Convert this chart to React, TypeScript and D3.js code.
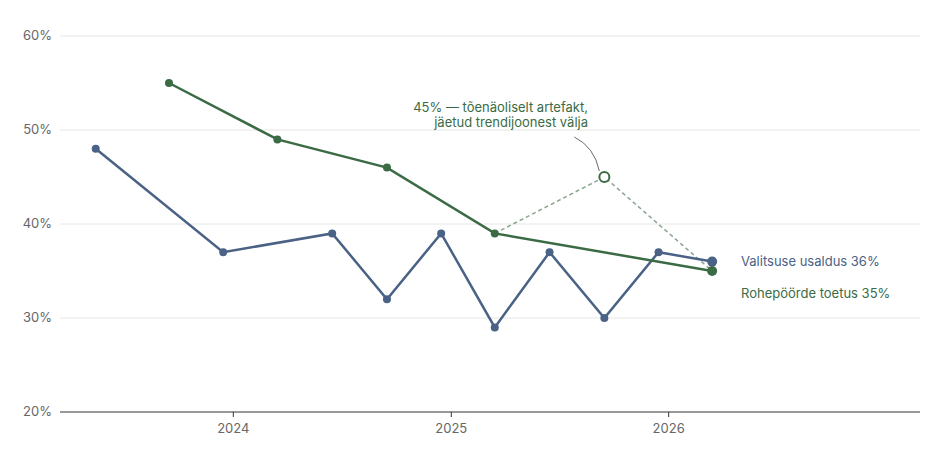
import React from "react";
import * as d3 from "d3";

const blueDates = ["2023-05-15","2023-12-15","2024-06-15","2024-09-15","2024-12-15","2025-03-15","2025-06-15","2025-09-15","2025-12-15","2026-03-15"];
const blueValues = [48,37,39,32,39,29,37,30,37,36];
const greenDates = ["2023-09-15","2024-03-15","2024-09-15","2025-03-15","2026-03-15"];
const greenValues = [55,49,46,39,35];
const artifactDate = "2025-09-15";
const artifactValue = 45;
const yTicks = [20,30,40,50,60];
const xTicks = ["2024-01-01","2025-01-01","2026-01-01"];

const W = 936, H = 462;
const BLUE = "#4a6285", GREEN = "#3b6b44";

export default function App() {
  const x = d3.scaleTime().domain([new Date("2023-03-16"), new Date("2027-02-27")]).range([60, 920]);
  const y = d3.scaleLinear().domain([20, 60]).range([412, 36]);
  const p = (d: string) => x(new Date(d));
  const line = d3.line<[number, number]>().x(d => d[0]).y(d => d[1]);
  const blue = blueDates.map((d, i) => [p(d), y(blueValues[i])] as [number, number]);
  const green = greenDates.map((d, i) => [p(d), y(greenValues[i])] as [number, number]);
  const art: [number, number] = [p(artifactDate), y(artifactValue)];
  const g3 = green[3], g4 = green[4];
  const font = "Inter, sans-serif";
  return (
    <svg width={W} height={H} style={{ position: "absolute", left: 0, top: 0, fontFamily: font }}>
      {yTicks.map(t => (
        <g key={t}>
          {t > 20 && <line x1={60} x2={920} y1={y(t)} y2={y(t)} stroke="#e6e6e6" />}
          <text x={52} y={y(t) + 4} textAnchor="end" fontSize={13} fill="#666">{t}%</text>
        </g>
      ))}
      <line x1={60} x2={920} y1={412} y2={412} stroke="#333" />
      {xTicks.map(t => (
        <g key={t}>
          <line x1={p(t)} x2={p(t)} y1={412} y2={417} stroke="#333" />
          <text x={p(t)} y={433} textAnchor="middle" fontSize={13} fill="#666">{t.slice(0, 4)}</text>
        </g>
      ))}
      <path d={line([g3, art, g4]) || ""} fill="none" stroke="#8aa58f" strokeWidth={1.5} strokeDasharray="4,3" />
      <path d={line(blue) || ""} fill="none" stroke={BLUE} strokeWidth={2.5} />
      <path d={line(green) || ""} fill="none" stroke={GREEN} strokeWidth={2.5} />
      {blue.map((d, i) => <circle key={i} cx={d[0]} cy={d[1]} r={i === blue.length - 1 ? 5 : 4} fill={BLUE} />)}
      {green.map((d, i) => <circle key={i} cx={d[0]} cy={d[1]} r={i === green.length - 1 ? 5 : 4} fill={GREEN} />)}
      <circle cx={art[0]} cy={art[1]} r={5} fill="#fff" stroke={GREEN} strokeWidth={2} />
      <path d={`M${art[0] - 30},${art[1] - 40} Q${art[0] - 10},${art[1] - 30} ${art[0] - 5},${art[1] - 6}`} fill="none" stroke="#444" strokeWidth={0.8} />
      <text x={588} y={112} textAnchor="end" fontSize={13} fill={GREEN}>45% — tõenäoliselt artefakt,</text>
      <text x={588} y={127} textAnchor="end" fontSize={13} fill={GREEN}>jäetud trendijoonest välja</text>
      <text x={741} y={266} fontSize={13} fill={BLUE}>Valitsuse usaldus  36%</text>
      <text x={741} y={298} fontSize={13} fill={GREEN}>Rohepöörde toetus  35%</text>
    </svg>
  );
}
